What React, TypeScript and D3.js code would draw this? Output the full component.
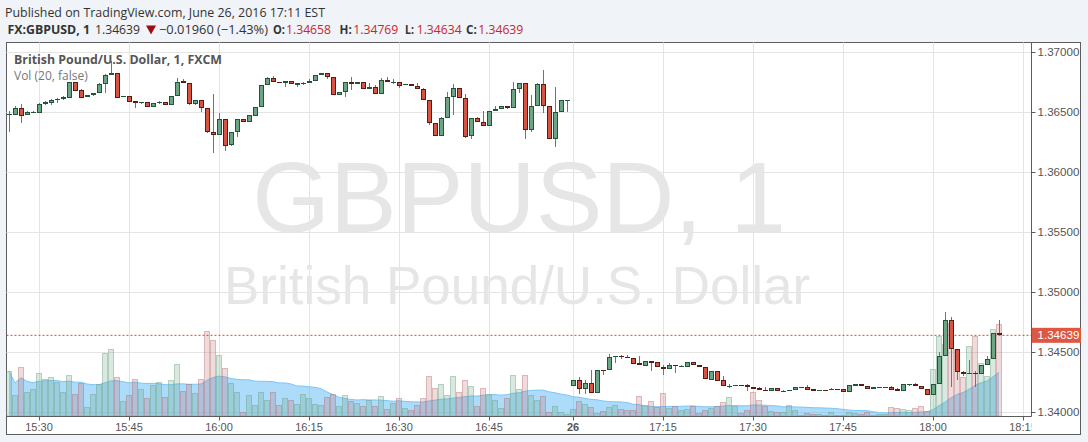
import React from 'react';
import * as d3 from 'd3';

// 1-minute bars: Fri 24 Jun 15:25–16:58, then Sun 26 Jun 17:00–18:11
const opens = [
  1.36481, 1.36475, 1.36531, 1.36475, 1.36497, 1.36494, 1.36564, 1.36578, 1.36597, 1.36606,
  1.36619, 1.36748, 1.36683, 1.36622, 1.36639, 1.36656, 1.36731, 1.36806, 1.36822, 1.36622,
  1.36633, 1.36589, 1.36572, 1.36581, 1.36542, 1.36572, 1.36581, 1.36556, 1.36631, 1.36756,
  1.36739, 1.36564, 1.36597, 1.36531, 1.36331, 1.36306, 1.36439, 1.36222, 1.36331, 1.36439,
  1.36419, 1.36469, 1.36539, 1.36722, 1.36781, 1.36750, 1.36739, 1.36756, 1.36728, 1.36739,
  1.36739, 1.36756, 1.36806, 1.36822, 1.36789, 1.36639, 1.36664, 1.36748, 1.36731, 1.36748,
  1.36689, 1.36706, 1.36647, 1.36764, 1.36748, 1.36748, 1.36722, 1.36731, 1.36714, 1.36689,
  1.36597, 1.36406, 1.36297, 1.36447, 1.36622, 1.36697, 1.36614, 1.36297, 1.36447, 1.36414,
  1.36381, 1.36506, 1.36522, 1.36547, 1.36531, 1.36689, 1.36739, 1.36347, 1.36547, 1.36731,
  1.36547, 1.36272, 1.36497, 1.36594,
  1.34219, 1.34264, 1.34194, 1.34242, 1.34156, 1.34347, 1.34347, 1.34456, 1.34467, 1.34461,
  1.34447, 1.34406, 1.34386, 1.34425, 1.34414, 1.34375, 1.34361, 1.34392, 1.34383, 1.34378,
  1.34414, 1.34389, 1.34372, 1.34269, 1.34339, 1.34267, 1.34217, 1.34214, 1.34225, 1.34222,
  1.34206, 1.34197, 1.34183, 1.34172, 1.34197, 1.34172, 1.34172, 1.34181, 1.34203, 1.34206,
  1.34192, 1.34172, 1.34186, 1.34181, 1.34192, 1.34189, 1.34164, 1.34219, 1.34231, 1.34219,
  1.34189, 1.34203, 1.34203, 1.34206, 1.34192, 1.34172, 1.34228, 1.34231, 1.34214, 1.34189,
  1.34139, 1.34231, 1.34464, 1.34764, 1.34522, 1.34333, 1.34314, 1.34325, 1.34314, 1.34389,
  1.34439, 1.34658,
];
const highs = [
  1.36508, 1.36550, 1.36567, 1.36508, 1.36506, 1.36578, 1.36592, 1.36608, 1.36614, 1.36631,
  1.36748, 1.36750, 1.36692, 1.36644, 1.36658, 1.36742, 1.36817, 1.36925, 1.36825, 1.36633,
  1.36633, 1.36592, 1.36583, 1.36583, 1.36578, 1.36589, 1.36583, 1.36631, 1.36781, 1.36775,
  1.36742, 1.36597, 1.36600, 1.36533, 1.36647, 1.36489, 1.36442, 1.36336, 1.36442, 1.36442,
  1.36472, 1.36539, 1.36728, 1.36794, 1.36800, 1.36750, 1.36756, 1.36756, 1.36739, 1.36753,
  1.36775, 1.36808, 1.36825, 1.36825, 1.36794, 1.36664, 1.36748, 1.36789, 1.36748, 1.36748,
  1.36739, 1.36725, 1.36781, 1.36789, 1.36772, 1.36748, 1.36731, 1.36731, 1.36739, 1.36697,
  1.36597, 1.36406, 1.36456, 1.36664, 1.36733, 1.36697, 1.36650, 1.36447, 1.36458, 1.36508,
  1.36511, 1.36550, 1.36547, 1.36547, 1.36748, 1.36739, 1.36739, 1.36642, 1.36739, 1.36850,
  1.36547, 1.36706, 1.36597, 1.36597,
  1.34267, 1.34292, 1.34267, 1.34350, 1.34347, 1.34347, 1.34483, 1.34464, 1.34478, 1.34472,
  1.34447, 1.34469, 1.34425, 1.34425, 1.34419, 1.34389, 1.34406, 1.34392, 1.34394, 1.34414,
  1.34417, 1.34389, 1.34372, 1.34339, 1.34339, 1.34300, 1.34233, 1.34222, 1.34225, 1.34233,
  1.34206, 1.34211, 1.34211, 1.34197, 1.34197, 1.34183, 1.34183, 1.34206, 1.34208, 1.34222,
  1.34192, 1.34183, 1.34186, 1.34197, 1.34192, 1.34189, 1.34222, 1.34231, 1.34231, 1.34219,
  1.34206, 1.34208, 1.34208, 1.34219, 1.34203, 1.34231, 1.34231, 1.34242, 1.34214, 1.34189,
  1.34231, 1.34503, 1.34833, 1.34792, 1.34522, 1.34344, 1.34433, 1.34344, 1.34389, 1.34467,
  1.34656, 1.34769,
];
const lows = [
  1.36336, 1.36475, 1.36411, 1.36475, 1.36492, 1.36489, 1.36558, 1.36558, 1.36572, 1.36600,
  1.36614, 1.36675, 1.36614, 1.36622, 1.36633, 1.36656, 1.36661, 1.36806, 1.36617, 1.36622,
  1.36583, 1.36531, 1.36569, 1.36542, 1.36539, 1.36567, 1.36556, 1.36556, 1.36631, 1.36739,
  1.36558, 1.36561, 1.36503, 1.36325, 1.36156, 1.36306, 1.36178, 1.36217, 1.36294, 1.36419,
  1.36419, 1.36469, 1.36539, 1.36722, 1.36748, 1.36739, 1.36706, 1.36733, 1.36706, 1.36725,
  1.36739, 1.36756, 1.36806, 1.36772, 1.36639, 1.36639, 1.36622, 1.36683, 1.36731, 1.36689,
  1.36689, 1.36647, 1.36647, 1.36748, 1.36731, 1.36697, 1.36722, 1.36714, 1.36689, 1.36597,
  1.36394, 1.36297, 1.36297, 1.36447, 1.36472, 1.36614, 1.36286, 1.36278, 1.36414, 1.36381,
  1.36381, 1.36506, 1.36522, 1.36522, 1.36531, 1.36656, 1.36272, 1.36331, 1.36547, 1.36489,
  1.36272, 1.36206, 1.36497, 1.36503,
  1.34219, 1.34150, 1.34153, 1.34156, 1.34156, 1.34308, 1.34347, 1.34406, 1.34442, 1.34447,
  1.34403, 1.34389, 1.34383, 1.34344, 1.34372, 1.34311, 1.34361, 1.34322, 1.34375, 1.34378,
  1.34389, 1.34375, 1.34272, 1.34269, 1.34261, 1.34214, 1.34197, 1.34214, 1.34219, 1.34178,
  1.34194, 1.34181, 1.34172, 1.34172, 1.34175, 1.34172, 1.34172, 1.34181, 1.34203, 1.34186,
  1.34172, 1.34172, 1.34181, 1.34181, 1.34186, 1.34164, 1.34164, 1.34219, 1.34219, 1.34189,
  1.34189, 1.34203, 1.34203, 1.34186, 1.34172, 1.34172, 1.34217, 1.34214, 1.34189, 1.34139,
  1.34139, 1.34231, 1.34464, 1.34211, 1.34267, 1.34300, 1.34314, 1.34206, 1.34314, 1.34389,
  1.34439, 1.34634,
];
const closes = [
  1.36486, 1.36531, 1.36469, 1.36500, 1.36497, 1.36564, 1.36581, 1.36600, 1.36608, 1.36625,
  1.36748, 1.36678, 1.36619, 1.36644, 1.36658, 1.36733, 1.36808, 1.36822, 1.36619, 1.36633,
  1.36586, 1.36572, 1.36581, 1.36542, 1.36575, 1.36583, 1.36556, 1.36631, 1.36753, 1.36739,
  1.36564, 1.36597, 1.36531, 1.36331, 1.36306, 1.36439, 1.36217, 1.36336, 1.36439, 1.36419,
  1.36472, 1.36539, 1.36728, 1.36781, 1.36748, 1.36739, 1.36756, 1.36733, 1.36739, 1.36739,
  1.36756, 1.36806, 1.36822, 1.36789, 1.36639, 1.36664, 1.36748, 1.36731, 1.36748, 1.36689,
  1.36706, 1.36647, 1.36764, 1.36748, 1.36748, 1.36719, 1.36731, 1.36714, 1.36689, 1.36597,
  1.36406, 1.36297, 1.36447, 1.36622, 1.36697, 1.36614, 1.36294, 1.36447, 1.36414, 1.36381,
  1.36506, 1.36522, 1.36547, 1.36531, 1.36689, 1.36739, 1.36347, 1.36547, 1.36731, 1.36547,
  1.36272, 1.36497, 1.36597, 1.36597,
  1.34267, 1.34194, 1.34242, 1.34156, 1.34347, 1.34342, 1.34458, 1.34464, 1.34456, 1.34447,
  1.34403, 1.34389, 1.34425, 1.34411, 1.34372, 1.34361, 1.34392, 1.34381, 1.34383, 1.34414,
  1.34389, 1.34375, 1.34272, 1.34339, 1.34261, 1.34214, 1.34217, 1.34222, 1.34219, 1.34206,
  1.34194, 1.34181, 1.34172, 1.34197, 1.34175, 1.34178, 1.34183, 1.34206, 1.34208, 1.34186,
  1.34172, 1.34183, 1.34181, 1.34192, 1.34186, 1.34164, 1.34222, 1.34231, 1.34219, 1.34189,
  1.34206, 1.34208, 1.34208, 1.34186, 1.34172, 1.34231, 1.34231, 1.34214, 1.34189, 1.34139,
  1.34231, 1.34464, 1.34764, 1.34522, 1.34331, 1.34314, 1.34325, 1.34314, 1.34389, 1.34439,
  1.34656, 1.34639,
];
const volumes = [
  45, 21, 49, 24, 27, 43, 37, 39, 34, 24, 41, 22, 33, 9, 22, 32, 63, 67, 39, 15,
  21, 37, 27, 18, 31, 34, 19, 36, 52, 25, 32, 23, 37, 85, 76, 61, 48, 33, 24, 4,
  21, 11, 24, 16, 24, 11, 18, 16, 12, 22, 18, 12, 11, 19, 22, 10, 21, 15, 13, 10,
  16, 10, 20, 7, 13, 18, 8, 6, 11, 18, 40, 28, 32, 21, 40, 24, 36, 30, 10, 28,
  22, 16, 8, 18, 41, 27, 41, 21, 16, 20, 4, 10, 4, 2,
  7, 15, 12, 9, 3, 5, 9, 11, 7, 6, 6, 20, 11, 15, 9, 23, 8, 10, 6, 7,
  10, 3, 6, 8, 10, 14, 19, 10, 3, 6, 24, 16, 10, 5, 4, 4, 11, 6, 1, 3,
  2, 2, 1, 4, 1, 1, 4, 3, 2, 4, 1, 2, 2, 9, 8, 7, 6, 8, 10, 5,
  47, 80, 72, 93, 67, 39, 70, 80, 53, 40, 87, 92,
];

const priceTicks = [1.34, 1.345, 1.35, 1.355, 1.36, 1.365, 1.37];
const timeTickBars = [5, 20, 35, 50, 65, 80, 94, 109, 124, 139, 154, 169];
const timeTickLabels = ['15:30', '15:45', '16:00', '16:15', '16:30', '16:45', '26', '17:15', '17:30', '17:45', '18:00', '18:15'];
const lastPrice = 1.34639;

const UP_FILL = '#6ba583', UP_LINE = '#225437';
const DN_FILL = '#d75442', DN_LINE = '#5b1a13';

export default function App() {
  const L = 6.5, R = 1031.5, T = 42.5, B = 416.5;
  const x = d3.scaleLinear().domain([0, 169]).range([9, 1023]);
  const y = d3.scaleLinear().domain([1.34, 1.37]).range([412, 52]);
  const vy = d3.scaleLinear().domain([0, 100]).range([416, 316]);

  const ma = volumes.map((_, i) => d3.mean(volumes.slice(Math.max(0, i - 19), i + 1)) as number);
  const area = d3.area<number>().x((_, i) => x(i)).y0(416).y1((d) => vy(d));
  const maLine = d3.line<number>().x((_, i) => x(i)).y((d) => vy(d));

  const sans = "'Liberation Sans', Arial, sans-serif";
  const ui = "'Open Sans', 'Liberation Sans', sans-serif";
  const red = '#c5282f';
  const fit = { lengthAdjust: 'spacingAndGlyphs' as const };

  return (
    <svg width={1088} height={442} style={{ position: 'absolute', left: 0, top: 0 }}>
      <defs>
        <clipPath id="plot"><rect x={L} y={T} width={R - L} height={B - T} /></clipPath>
        <clipPath id="taxis"><rect x={L} y={B} width={R - L} height={20} /></clipPath>
      </defs>
      <rect x={0} y={0} width={1088} height={442} fill="#f0f3f7" />

      {/* header */}
      <text x={5} y={16.7} fontFamily={ui} fontSize={12.8} fill="#333" textLength={320} {...fit}>Published on TradingView.com, June 26, 2016 17:11 EST</text>
      <g fontFamily={ui} fontSize={12.6} fill="#333">
        <text x={7.5} y={33.5} fontWeight="bold" textLength={82.5} {...fit}>FX:GBPUSD, 1</text>
        <text x={95} y={33.5} textLength={45} {...fit}>1.34639</text>
        <path d="M146,25.5 L156,25.5 L151,34.5 Z" fill="#9c0f0f" />
        <text x={159} y={33.5} textLength={109} {...fit}>−0.01960 (−1.43%)</text>
        <text x={273} y={33.5} fontWeight="bold" textLength={12} {...fit}>O:</text>
        <text x={286} y={33.5} fill={red} textLength={45} {...fit}>1.34658</text>
        <text x={339.5} y={33.5} fontWeight="bold" textLength={12.2} {...fit}>H:</text>
        <text x={353.3} y={33.5} fill={red} textLength={45} {...fit}>1.34769</text>
        <text x={405} y={33.5} fontWeight="bold" textLength={9} {...fit}>L:</text>
        <text x={416.7} y={33.5} fill={red} textLength={45} {...fit}>1.34634</text>
        <text x={466} y={33.5} fontWeight="bold" textLength={10.7} {...fit}>C:</text>
        <text x={478.3} y={33.5} fill={red} textLength={45} {...fit}>1.34639</text>
      </g>

      {/* frame */}
      <rect x={L} y={T} width={1074} height={392} fill="#fff" stroke="#5d5d5d" />

      {/* grid */}
      <g stroke="#e4e4e4" strokeWidth={1}>
        {priceTicks.map((p) => (
          <line key={p} x1={L} x2={R} y1={Math.round(y(p)) + 0.5} y2={Math.round(y(p)) + 0.5} />
        ))}
        {timeTickBars.map((b) => (
          <line key={b} x1={x(b) + 0.5} x2={x(b) + 0.5} y1={T} y2={B} />
        ))}
      </g>

      <g clipPath="url(#plot)">
        {/* watermark */}
        <text x={519} y={232} textAnchor="middle" fontFamily={sans} fontSize={100} fill="#e6e6e6">GBPUSD, 1</text>
        <text x={517} y={304} textAnchor="middle" fontFamily={sans} fontSize={53} fill="#e6e6e6">British Pound/U.S. Dollar</text>

        {/* volume MA */}
        <path d={area(ma) || ''} fill="#5cb8f5" fillOpacity={0.5} />
        <path d={maLine(ma) || ''} fill="none" stroke="#7cc6f5" strokeWidth={1} />

        {/* volume bars */}
        {volumes.map((v, i) => {
          const isUp = closes[i] >= opens[i];
          const top = Math.round(vy(v)) + 0.5;
          return (
            <rect key={i} x={x(i) - 2.5} y={top} width={5} height={Math.max(0, 416 - top)}
              fill={isUp ? 'rgba(107,165,131,0.25)' : 'rgba(190,110,110,0.25)'}
              stroke={isUp ? 'rgba(107,165,131,0.45)' : 'rgba(180,100,100,0.4)'} strokeWidth={1} />
          );
        })}

        {/* last price line */}
        <line x1={L} x2={R} y1={y(lastPrice)} y2={y(lastPrice)} stroke="#e3402c" strokeDasharray="2 2" />

        {/* candles */}
        {opens.map((o, i) => {
          const c = closes[i];
          const isUp = c >= o;
          const cx = Math.round(x(i));
          const top = y(Math.max(o, c));
          const bot = y(Math.min(o, c));
          const rt = Math.round(top), rb = Math.round(bot);
          return (
            <g key={i}>
              <line x1={cx + 0.5} x2={cx + 0.5} y1={Math.round(y(highs[i]))} y2={Math.round(y(lows[i]))} stroke="#737375" />
              {rb - rt < 1.5 ? (
                <line x1={cx - 2} x2={cx + 3} y1={rt + 0.5} y2={rt + 0.5} stroke={isUp ? UP_LINE : DN_LINE} />
              ) : (
                <rect x={cx - 1.5} y={rt + 0.5} width={4} height={rb - rt - 1}
                  fill={isUp ? UP_FILL : DN_FILL} stroke={isUp ? UP_LINE : DN_LINE} />
              )}
            </g>
          );
        })}

        {/* legend */}
        <text x={14} y={64} fontFamily={ui} fontSize={12} fontWeight="bold" fill="#555" textLength={208} {...fit}>British Pound/U.S. Dollar, 1, FXCM</text>
        <text x={14} y={80} fontFamily={ui} fontSize={12} fill="#777">Vol (20, false)</text>
      </g>

      {/* axes */}
      <line x1={R} x2={R} y1={T} y2={B} stroke="#5d5d5d" />
      <line x1={L} x2={R} y1={B} y2={B} stroke="#5d5d5d" />
      <g fontFamily={sans} fontSize={11.6} fill="#555">
        {priceTicks.map((p) => (
          <g key={p}>
            <line x1={R} x2={R + 4} y1={Math.round(y(p)) + 0.5} y2={Math.round(y(p)) + 0.5} stroke="#5d5d5d" />
            <text x={1037.5} y={y(p) + 4}>{p.toFixed(5)}</text>
          </g>
        ))}
      </g>
      <rect x={1032} y={y(lastPrice) - 7.5} width={49} height={15} fill="#dd5843" />
      <text x={1037.5} y={y(lastPrice) + 4} fontFamily={sans} fontSize={11.6} fill="#fff">{lastPrice.toFixed(5)}</text>

      <g clipPath="url(#taxis)" fontFamily={sans} fontSize={11} fill="#555">
        {timeTickBars.map((b, k) => (
          <g key={b}>
            <line x1={x(b) + 0.5} x2={x(b) + 0.5} y1={B} y2={B + 4} stroke="#5d5d5d" />
            <text x={x(b)} y={431} textAnchor="middle" fontWeight={timeTickLabels[k] === '26' ? 'bold' : 'normal'}>{timeTickLabels[k]}</text>
          </g>
        ))}
      </g>
    </svg>
  );
}
